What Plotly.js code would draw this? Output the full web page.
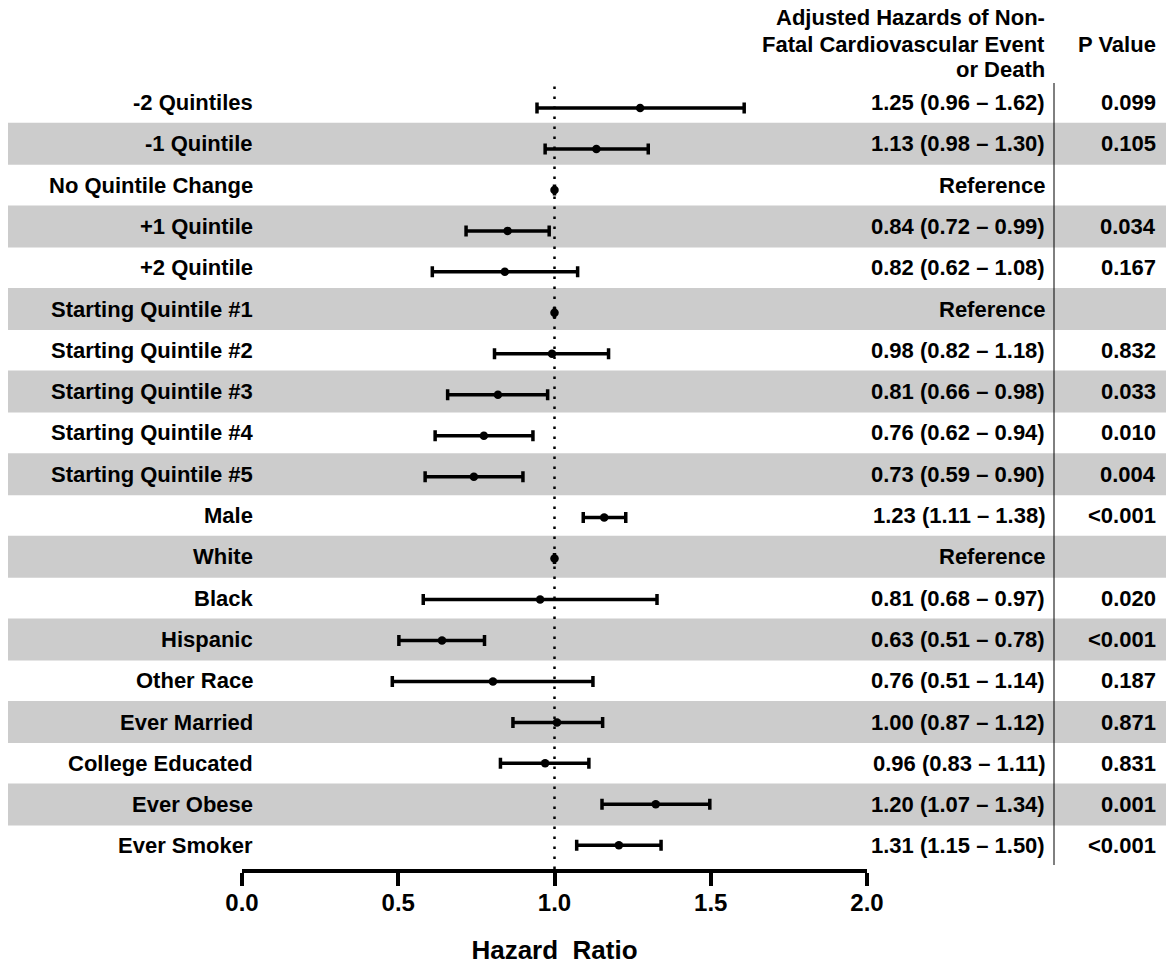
<!DOCTYPE html>
<html>
<head>
<meta charset="utf-8">
<script src="https://cdn.plot.ly/plotly-3.0.1.min.js"></script>
<style>html,body{margin:0;padding:0;background:#fff}#chart{width:1166px;height:967px}</style>
</head>
<body>
<div id="chart"></div>
<script>
// ---- data ----
const labels = ['-2 Quintiles','-1 Quintile','No Quintile Change','+1 Quintile','+2 Quintile',
  'Starting Quintile #1','Starting Quintile #2','Starting Quintile #3','Starting Quintile #4','Starting Quintile #5',
  'Male','White','Black','Hispanic','Other Race','Ever Married','College Educated','Ever Obese','Ever Smoker'];
const hazard = [1.274,1.134,1.0,0.850,0.841,1.0,0.992,0.819,0.774,0.742,1.159,1.0,0.954,0.640,0.803,1.008,0.970,1.324,1.206];
const ciLow  = [0.944,0.970,1.0,0.717,0.609,1.0,0.808,0.658,0.618,0.586,1.092,1.0,0.580,0.502,0.481,0.867,0.827,1.152,1.071];
const ciHigh = [1.607,1.300,1.0,0.983,1.074,1.0,1.173,0.978,0.931,0.899,1.228,1.0,1.328,0.776,1.123,1.154,1.110,1.497,1.341];
const estText = ['1.25 (0.96 – 1.62)','1.13 (0.98 – 1.30)','Reference','0.84 (0.72 – 0.99)','0.82 (0.62 – 1.08)',
  'Reference','0.98 (0.82 – 1.18)','0.81 (0.66 – 0.98)','0.76 (0.62 – 0.94)','0.73 (0.59 – 0.90)',
  '1.23 (1.11 – 1.38)','Reference','0.81 (0.68 – 0.97)','0.63 (0.51 – 0.78)','0.76 (0.51 – 1.14)',
  '1.00 (0.87 – 1.12)','0.96 (0.83 – 1.11)','1.20 (1.07 – 1.34)','1.31 (1.15 – 1.50)'];
const pText = ['0.099','0.105','','0.034','0.167','','0.832','0.033','0.010','0.004','<0.001','','0.020','<0.001','0.187','0.871','0.831','0.001','<0.001'];
const xTicks = [0, 0.5, 1.0, 1.5, 2.0];
const headerLines = ['Adjusted Hazards of Non-','Fatal Cardiovascular Event','or Death'];

// ---- geometry ----
const W = 1166, H = 967;
const L = 242, R = 299, T = 80, B = 98;
const PW = W - L - R, PH = H - T - B;
const px2x = p => (p - L) / PW;           // pixel -> paper x
const py2y = p => (H - B - p) / PH;       // pixel -> paper y
const rowY = i => 102.5 + 41.3 * i;       // text/band row centre (pixels)

const FONT = 'Liberation Sans, Arial, sans-serif';
const idx = labels.map((_, i) => i);

const trace = {
  type: 'scatter', mode: 'markers',
  x: hazard, y: idx, yaxis: 'y2',
  marker: {color: '#000', size: 8.5, symbol: 'circle'},
  error_x: {
    type: 'data', symmetric: false,
    array: hazard.map((h, i) => ciHigh[i] - h),
    arrayminus: hazard.map((h, i) => h - ciLow[i]),
    color: '#000', thickness: 3.5, width: 5.5
  },
  hoverinfo: 'skip', showlegend: false, cliponaxis: false
};

const shapes = [];
idx.forEach(i => {
  if (i % 2 === 1) {
    shapes.push({type: 'rect', xref: 'paper', yref: 'paper', layer: 'below',
      x0: px2x(8), x1: px2x(1166), y0: py2y(rowY(i) - 21), y1: py2y(rowY(i) + 21),
      fillcolor: '#cccccc', line: {width: 0}});
  }
});
// dotted reference line at HR = 1
shapes.push({type: 'line', xref: 'x', yref: 'paper', x0: 1, x1: 1, y0: py2y(869), y1: py2y(80),
  line: {color: '#000', width: 2.5, dash: '2.5px,7.5px'}});
// column separator
shapes.push({type: 'line', xref: 'paper', yref: 'paper', x0: px2x(1054), x1: px2x(1054),
  y0: py2y(865), y1: py2y(83), line: {color: '#000', width: 1}});

const annotations = [];
idx.forEach(i => {
  const y = py2y(rowY(i));
  annotations.push({xref: 'paper', yref: 'paper', x: px2x(255), y: y, xanchor: 'right', yanchor: 'middle',
    text: labels[i], showarrow: false, font: {family: FONT, size: 22, weight: 'bold', color: '#000'}});
  annotations.push({xref: 'paper', yref: 'paper', x: px2x(1047), y: y, xanchor: 'right', yanchor: 'middle',
    text: estText[i], showarrow: false, font: {family: FONT, size: 22, weight: 'bold', color: '#000'}});
  if (pText[i]) annotations.push({xref: 'paper', yref: 'paper', x: px2x(1158), y: y, xanchor: 'right', yanchor: 'middle',
    text: pText[i], showarrow: false, font: {family: FONT, size: 22, weight: 'bold', color: '#000'}});
});
headerLines.forEach((t, k) => {
  annotations.push({xref: 'paper', yref: 'paper', x: px2x(1047), y: py2y(18 + 26 * k), xanchor: 'right', yanchor: 'middle',
    text: t, showarrow: false, font: {family: FONT, size: 22, weight: 'bold', color: '#000'}});
});
annotations.push({xref: 'paper', yref: 'paper', x: px2x(1158), y: py2y(44), xanchor: 'right', yanchor: 'middle',
  text: 'P Value', showarrow: false, font: {family: FONT, size: 22, weight: 'bold', color: '#000'}});

const layout = {
  width: W, height: H,
  margin: {l: L, r: R, t: T, b: B, pad: 0},
  paper_bgcolor: '#fff', plot_bgcolor: 'rgba(0,0,0,0)',
  font: {family: FONT, color: '#000'},
  xaxis: {
    range: [0, 2], tickvals: xTicks, ticktext: xTicks.map(v => v.toFixed(1)),
    showline: true, linecolor: '#000', linewidth: 4, mirror: false,
    ticks: 'outside', ticklen: 13, tickwidth: 4, tickcolor: '#000', ticklabelstandoff: -4,
    showgrid: false, zeroline: false, fixedrange: true,
    tickfont: {family: FONT, size: 24, weight: 'bold', color: '#000'},
    title: {text: 'Hazard&nbsp; Ratio', standoff: 27, font: {family: FONT, size: 26, weight: 'bold', color: '#000'}}
  },
  yaxis: {range: [PH / 41.3 - 22.5 / 41.3, -22.5 / 41.3], visible: false, fixedrange: true},
  yaxis2: {overlaying: 'y', range: [PH / 40.96 - 28 / 40.96, -28 / 40.96], visible: false, fixedrange: true},
  shapes: shapes, annotations: annotations, showlegend: false
};

Plotly.newPlot('chart', [trace], layout, {staticPlot: true, displayModeBar: false});
</script>
</body>
</html>
